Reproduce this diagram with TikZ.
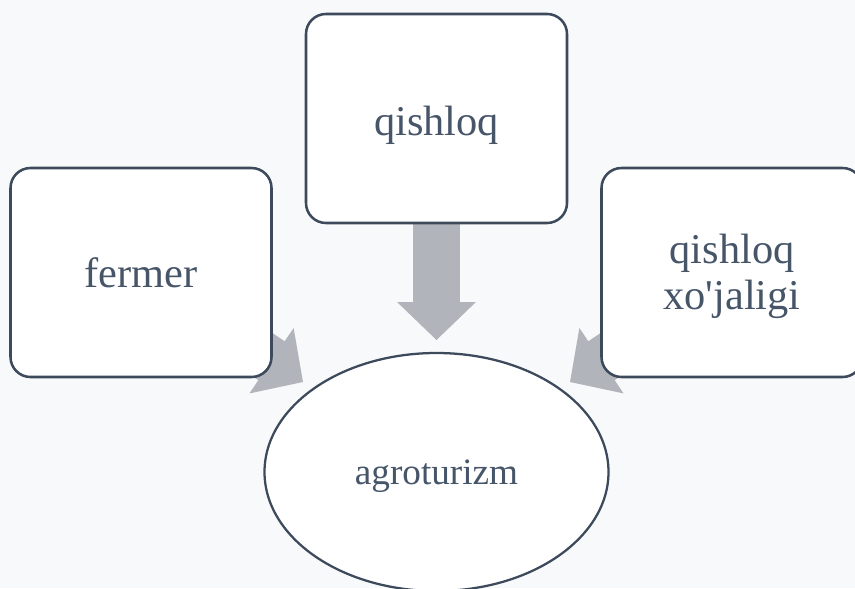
\documentclass[tikz,border=0pt]{standalone}
\usetikzlibrary{calc,shapes.geometric}
\definecolor{bgc}{HTML}{F8F9FA}
\definecolor{edgec}{HTML}{3D4A5C}
\definecolor{txtc}{HTML}{475569}
\definecolor{arrc}{HTML}{B1B4BA}
\font\bigf="Liberation Serif" at 31.8pt
\font\midf="Liberation Serif" at 27.9pt
\newcommand\lowerby[2]{\raisebox{-#1}[\height][\depth]{#2}}
\tikzset{
  px/.style={x=0.75pt,y=-0.75pt},
  boxnode/.style={draw=edgec,line width=1.9pt,fill=white,rounded corners=15pt,
    minimum width=195.75pt,minimum height=156.75pt,inner sep=0pt,
    align=center,text=txtc,font=\bigf},
  ovalnode/.style={draw=edgec,line width=1.7pt,fill=white,ellipse,
    minimum width=258pt,minimum height=178.5pt,inner sep=0pt,
    text=txtc,font=\midf},
  arrowfill/.style={fill=arrc,draw=none}
}
\begin{document}
\begin{tikzpicture}[px]
\fill[bgc] (0,0) rectangle (855,588);
\useasboundingbox (0,0) rectangle (855,588);
\clip (0,0) rectangle (855,588);
% anchor coordinates
\coordinate (ctop) at (436.5,118.5);
\coordinate (cleft) at (141,272.5);
\coordinate (cright) at (732,272.5);
\coordinate (tipT) at (436.5,340);
\coordinate (tipL) at (303,382);
\coordinate (tipR) at (570,382);
% block arrows (drawn behind boxes)
\foreach \s/\t in {ctop/tipT,cleft/tipL,cright/tipR}{
  \coordinate (hb) at ($(\t)!28.5pt!(\s)$);
  \fill[arrowfill] ($(\s)!17.6pt!90:(\t)$) -- ($(hb)!17.6pt!-90:(\s)$)
    -- ($(hb)!29.6pt!-90:(\s)$) -- (\t) -- ($(hb)!29.6pt!90:(\s)$)
    -- ($(hb)!17.6pt!90:(\s)$) -- ($(\s)!17.6pt!-90:(\t)$) -- cycle;
}
% nodes
\node[boxnode] (qishloq) at (ctop) {\lowerby{5pt}{qishloq}};
\node[boxnode] (fermer) at (cleft) {fermer};
\node[boxnode] (xojaligi) at (cright) {\lowerby{3pt}{\parbox{190pt}{\centering\baselineskip=34pt qishloq\\xo'jaligi}}};
\node[ovalnode] (agro) at (436.5,472) {\lowerby{3pt}{agroturizm}};
\end{tikzpicture}
\end{document}
